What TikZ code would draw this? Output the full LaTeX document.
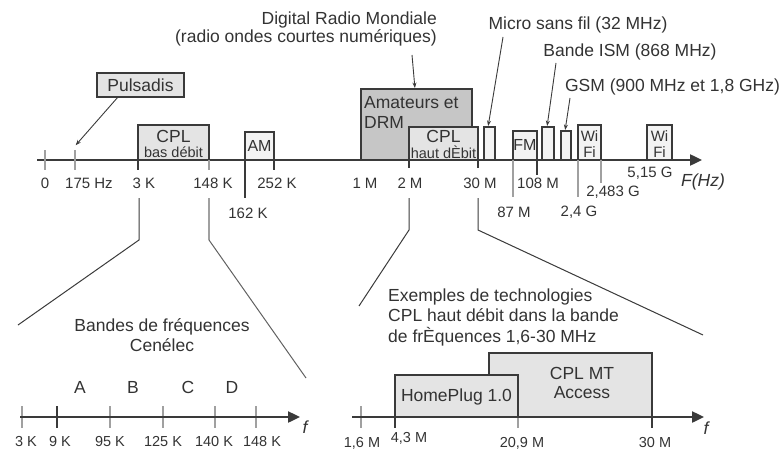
\documentclass[tikz,border=0pt]{standalone}
\usepackage{fontspec}
\setmainfont{Liberation Sans}
\usetikzlibrary{arrows.meta}
\definecolor{ink}{HTML}{333333}
\definecolor{ln}{HTML}{3A3A3A}
\definecolor{lg}{HTML}{A0A0A0}
\definecolor{fillL}{HTML}{E4E4E4}
\definecolor{fillD}{HTML}{C6C6C6}
\definecolor{fillW}{HTML}{F3F3F3}
\begin{document}
\begin{tikzpicture}[x=1pt,y=-1pt,
 box/.style={draw=ln, line width=1.2pt, inner sep=0pt, outer sep=0pt},
 big/.style={font=\fontsize{17.5}{19}\selectfont, text=ink, inner sep=0pt},
 mid/.style={font=\fontsize{15}{16}\selectfont, text=ink, inner sep=0pt},
 sml/.style={font=\fontsize{14.5}{15}\selectfont, text=ink, inner sep=0pt},
 ital/.style={font=\fontsize{17.5}{19}\selectfont\itshape, text=ink, inner sep=0pt},
 axisline/.style={draw=ln, line width=2.4pt, -{Triangle[length=12pt,width=11pt]}},
 tk/.style={draw=ln, line width=1.2pt},
 tkg/.style={draw=lg, line width=1.2pt},
 ptr/.style={draw=ln, line width=0.9pt, -{Stealth[length=5.5pt,width=4pt]}, shorten >=1pt},
 zl/.style={draw=ln, line width=1pt},
 zlg/.style={draw=lg, line width=1.2pt},
]
\useasboundingbox (0,0) rectangle (782,452);

% ---------------- main axis boxes ----------------
\node[box, fill=fillL, minimum width=87pt, minimum height=24pt] (pulsadis) at (140.5,85) {};
\node[big] (tpuls) at (pulsadis) {Pulsadis};

\node[box, fill=fillL, minimum width=71pt, minimum height=35pt] (cplbas) at (173.5,142.5) {};
\node[big] (tcplbas1) at (173.5,136) {CPL};
\node[sml] (tcplbas2) at (173.5,152) {bas débit};

\node[box, fill=fillW, minimum width=29pt, minimum height=28pt] (am) at (259.5,146) {};
\node[mid, font=\fontsize{16}{17}\selectfont] (tam) at (259.5,146) {AM};

\node[box, fill=fillD, minimum width=111pt, minimum height=71pt] (amat) at (416.5,124.5) {};
\node[big, anchor=west] (tamat1) at (364,103) {Amateurs et};
\node[big, anchor=west] (tamat2) at (364,122) {DRM};

\node[box, fill=fillL, minimum width=69pt, minimum height=33pt] (cplhaut) at (443.5,143.5) {};
\node[big] (tcplhaut1) at (443.5,136) {CPL};
\node[sml] (tcplhaut2) at (443.5,152) {haut dÈbit};

\node[box, fill=fillW, minimum width=11pt, minimum height=33pt] (micro) at (489.5,143.5) {};
\node[box, fill=fillW, minimum width=24pt, minimum height=29pt] (fm) at (525,145.5) {};
\node[mid, font=\fontsize{16}{17}\selectfont] (tfm) at (525,145) {FM};
\node[box, fill=fillW, minimum width=12pt, minimum height=33pt] (ism) at (548,143.5) {};
\node[box, fill=fillW, minimum width=10pt, minimum height=29pt] (gsm) at (566,145.5) {};
\node[box, fill=fillW, minimum width=23pt, minimum height=35pt] (wifi1) at (589.5,142.5) {};
\node[mid] (twifi1a) at (589.5,136) {Wi};
\node[mid] (twifi1b) at (589.5,152) {Fi};
\node[box, fill=fillW, minimum width=25pt, minimum height=35pt] (wifi2) at (659.5,142.5) {};
\node[mid] (twifi2a) at (659.5,136) {Wi};
\node[mid] (twifi2b) at (659.5,152) {Fi};

% main axis
\coordinate (ax0) at (37,160);
\coordinate (ax1) at (702,160);
\draw[axisline] (ax0) -- (ax1);

% ticks
\draw[tkg] (45,150) -- (45,170);
\draw[tkg] (75,150) -- (75,170);
\draw[tk] (138,160) -- (138,170);
\draw[tkg] (209,160) -- (209,170);
\draw[tk] (245,160) -- (245,198);
\draw[tk] (274,160) -- (274,170);
\draw[tk] (409,160) -- (409,168);
\draw[tk] (478,160) -- (478,168);
\draw[tkg] (513,160) -- (513,197);
\draw[tk] (537,160) -- (537,175);
\draw[tkg] (578,160) -- (578,197);
\draw[tkg] (601,160) -- (601,183);

% tick labels
\node[mid] (l0) at (45,183) {0};
\node[mid] (l175) at (89,183) {175 Hz};
\node[mid] (l3k) at (144,183) {3 K};
\node[mid] (l148k) at (213,183) {148 K};
\node[mid] (l252k) at (277,183) {252 K};
\node[mid] (l162k) at (248,213) {162 K};
\node[mid] (l1m) at (365,183) {1 M};
\node[mid] (l2m) at (410,183) {2 M};
\node[mid] (l30m) at (480,183) {30 M};
\node[mid] (l108m) at (538,183) {108 M};
\node[mid] (l87m) at (514,212) {87 M};
\node[mid] (l24g) at (579,212) {2,4 G};
\node[mid] (l2483g) at (613,192) {2,483 G};
\node[mid] (l515g) at (650,173) {5,15 G};
\node[ital] (lfhz) at (703,182) {F(Hz)};

% top labels and pointers
\node[big, align=right, anchor=east, font=\fontsize{17.5}{18.5}\selectfont] (tdrm) at (437,29) {Digital Radio Mondiale\\(radio ondes courtes numériques)};
\node[big] (tmicro) at (578,25) {Micro sans fil (32 MHz)};
\node[big] (tism) at (630,52) {Bande ISM (868 MHz)};
\node[big] (tgsm) at (672.5,87) {GSM (900 MHz et 1,8 GHz)};

\coordinate (p175) at (75,146);
\draw[ptr] ([xshift=21pt]pulsadis.south west) -- (p175);
\draw[ptr] (412,55) -- ([xshift=-1.5pt]amat.north);
\draw[ptr] (503,37) -- ([xshift=-1.5pt]micro.north);
\draw[ptr] (556,63) -- ([xshift=-1pt]ism.north);
\draw[ptr] (570,98) -- ([xshift=-1pt]gsm.north);

% ---------------- zoom lines ----------------
\draw[zl] (139,198) -- (139,240) -- (18,325);
\draw[zlg] (209,198) -- (209,240);
\draw[zl, draw=ln!80] (209,240) -- (306,378);
\draw[zl] (409,198) -- (409,230) -- (359,306);
\draw[zl] (478,198) -- (478,230) -- (703,335);

% ---------------- bottom left: Cenelec ----------------
\node[big, align=center, font=\fontsize{17.5}{20}\selectfont] (tcen) at (162,335) {Bandes de fréquences\\Cenélec};
\node[big] (ta) at (80,387) {A};
\node[big] (tb) at (133,387) {B};
\node[big] (tc) at (188,387) {C};
\node[big] (td) at (232,387) {D};

\coordinate (bl0) at (20,417);
\coordinate (bl1) at (300,417);
\draw[tkg] (22,406) -- (22,428);
\draw[tk] (57,406) -- (57,428);
\draw[tkg] (110,406) -- (110,428);
\draw[tkg] (163,406) -- (163,428);
\draw[tkg] (215,406) -- (215,428);
\draw[tkg] (256,406) -- (256,428);
\draw[axisline] (bl0) -- (bl1);

\node[sml] (b3k) at (26,442) {3 K};
\node[sml] (b9k) at (60,442) {9 K};
\node[sml] (b95k) at (110,442) {95 K};
\node[sml] (b125k) at (163,442) {125 K};
\node[sml] (b140k) at (214,442) {140 K};
\node[sml] (b148k) at (262,442) {148 K};
\node[ital] (bf1) at (305,427) {f};

% ---------------- bottom right: CPL haut debit ----------------
\node[big, align=left, anchor=west, font=\fontsize{17.5}{20.5}\selectfont] (tex) at (388,317) {Exemples de technologies\\CPL haut débit dans la bande\\de frÈquences 1,6-30 MHz};

\node[box, fill=fillL, minimum width=163pt, minimum height=64pt] (cplmt) at (570.5,385) {};
\node[big] (tcplmt1) at (582,373) {CPL MT};
\node[big] (tcplmt2) at (582,393) {Access};
\node[box, fill=fillL, minimum width=123pt, minimum height=42pt] (homeplug) at (456.5,396) {};
\node[big] (thp) at (456.5,397) {HomePlug 1.0};

\coordinate (br0) at (352,417);
\coordinate (br1) at (704,417);
\draw[tkg] (361,406) -- (361,428);
\draw[tk] (395,417) -- (395,428);
\draw[tkg] (518,417) -- (518,428);
\draw[tk] (652,417) -- (652,428);
\draw[axisline] (br0) -- (br1);

\node[sml] (r16) at (362,443) {1,6 M};
\node[sml] (r43) at (409,438) {4,3 M};
\node[sml] (r209) at (522,443) {20,9 M};
\node[sml] (r30) at (655,443) {30 M};
\node[ital] (bf2) at (706,428) {f};
\end{tikzpicture}
\end{document}
